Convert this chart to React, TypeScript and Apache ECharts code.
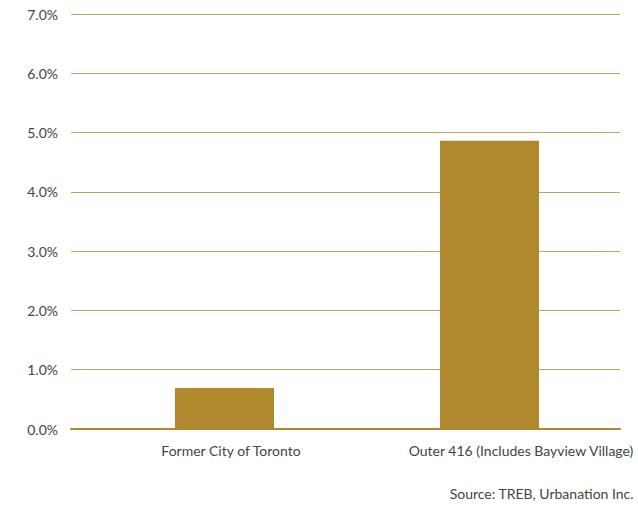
import React, { useEffect, useRef } from "react";
import * as echarts from "echarts";

const categories = ["Former City of Toronto", "Outer 416 (Includes Bayview Village)"];
const values = [0.69, 4.86];
const yTicks = [0, 1, 2, 3, 4, 5, 6, 7];
const sourceText = "Source: TREB, Urbanation Inc.";

const GOLD = "#B0892F";
const GRID_GOLD = "#C6A458";
const TEXT = "#444444";
const FONT = "Lato";

export default function App() {
  const ref = useRef<HTMLDivElement>(null);
  useEffect(() => {
    if (!ref.current) return;
    const chart = echarts.init(ref.current, null, { renderer: "svg" });
    const yMin = yTicks[0];
    const yMax = yTicks[yTicks.length - 1];
    chart.setOption({
      animation: false,
      grid: [
        { left: 71, right: 18, top: 14, bottom: 77, outerBoundsMode: "none" },
        { left: 92, right: 16, top: 14, bottom: 77, outerBoundsMode: "none" },
        { left: 86, width: 580, top: 14, bottom: 77, outerBoundsMode: "none" },
      ],
      xAxis: [
        {
          type: "category",
          gridIndex: 0,
          data: categories,
          axisLine: { show: true, lineStyle: { color: GOLD, width: 2 } },
          axisTick: { show: false },
          axisLabel: { show: false },
        },
        {
          type: "category",
          gridIndex: 1,
          data: categories,
          axisLine: { show: false },
          axisTick: { show: false },
          axisLabel: { show: false },
        },
        {
          type: "category",
          gridIndex: 2,
          data: categories,
          axisLine: { show: false },
          axisTick: { show: false },
          axisLabel: {
            show: true,
            interval: 0,
            color: TEXT,
            fontFamily: FONT,
            fontSize: 14,
            margin: 14,
          },
        },
      ],
      yAxis: [
        {
          type: "value",
          gridIndex: 0,
          min: yMin,
          max: yMax,
          interval: 1,
          axisLine: { show: false },
          axisTick: { show: false },
          splitLine: { show: true, lineStyle: { color: GRID_GOLD, width: 1 } },
          axisLabel: {
            color: TEXT,
            fontFamily: FONT,
            fontSize: 14,
            margin: 13,
            formatter: (v: number) => v.toFixed(1) + "%",
          },
        },
        {
          type: "value",
          gridIndex: 1,
          min: yMin,
          max: yMax,
          interval: 1,
          show: false,
        },
        {
          type: "value",
          gridIndex: 2,
          min: yMin,
          max: yMax,
          interval: 1,
          show: false,
        },
      ],
      series: [
        {
          type: "bar",
          xAxisIndex: 1,
          yAxisIndex: 1,
          data: values,
          barWidth: 99,
          itemStyle: { color: GOLD },
          z: 1,
        },
      ],
      graphic: [
        {
          type: "text",
          right: 4,
          top: 486,
          style: {
            text: sourceText,
            fill: TEXT,
            font: `14px ${FONT}`,
          },
        },
      ],
    });
    return () => chart.dispose();
  }, []);
  return (
    <div
      ref={ref}
      style={{ position: "absolute", left: 0, top: 0, width: 638, height: 506, background: "#fff" }}
    />
  );
}
